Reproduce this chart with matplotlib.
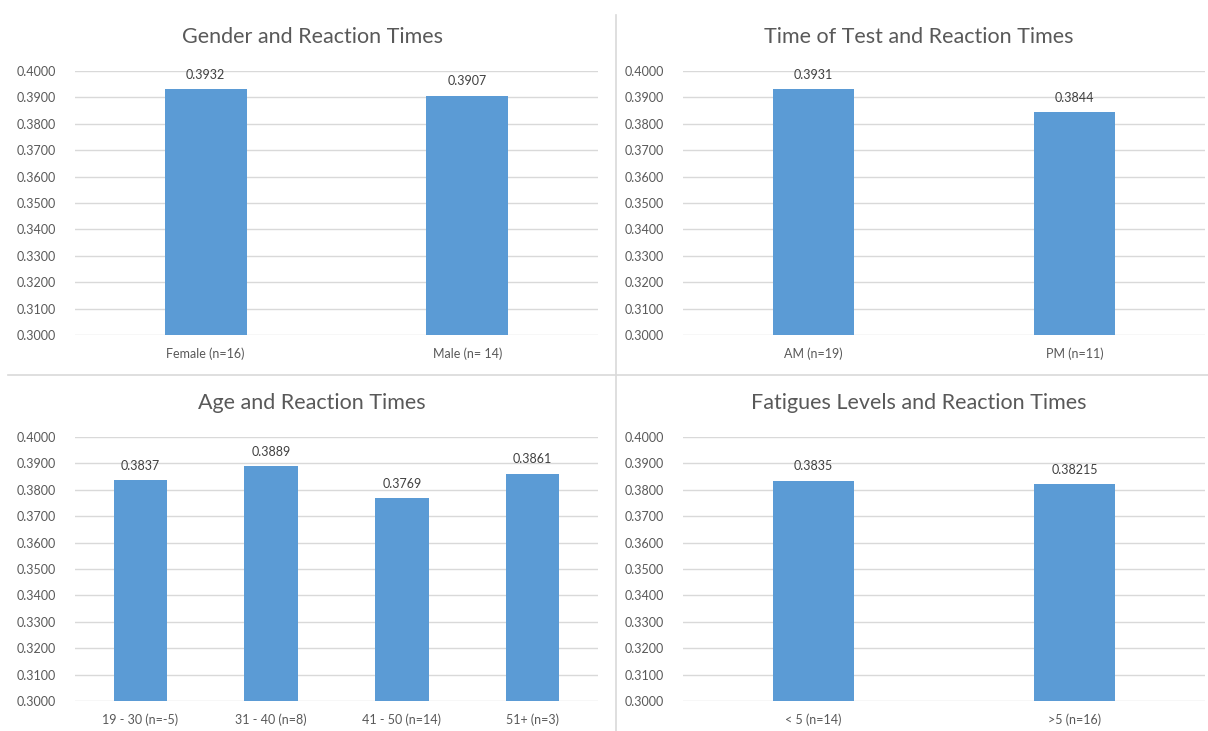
import matplotlib.pyplot as plt
from matplotlib.lines import Line2D

plt.rcParams['font.family'] = ['Lato', 'DejaVu Sans']

gender_labels = ['Female (n=16)', 'Male (n= 14)']
gender_times = [0.3932, 0.3907]

time_labels = ['AM (n=19)', 'PM (n=11)']
time_times = [0.3931, 0.3844]

age_labels = ['19 - 30 (n=-5)', '31 - 40 (n=8)', '41 - 50 (n=14)', '51+ (n=3)']
age_times = [0.3837, 0.3889, 0.3769, 0.3861]

fatigue_labels = ['< 5 (n=14)', '>5 (n=16)']
fatigue_times = [0.3835, 0.38215]
fatigue_text = ['0.3835', '0.38215']

W, H = 1208, 731
bar_color = '#5b9bd5'
grid_color = '#d9d9d9'
text_color = '#595959'

fig = plt.figure(figsize=(W / 100, H / 100), dpi=100)


def panel(left, right, top, bottom, title, title_x, title_y, labels, values, width, texts=None):
    ax = fig.add_axes([left / W, 1 - bottom / H, (right - left) / W, (bottom - top) / H])
    x = range(len(values))
    ax.bar(x, values, width=width, color=bar_color, zorder=3)
    ax.set_xlim(-0.5, len(values) - 0.5)
    ax.set_ylim(0.3, 0.4)
    ax.set_yticks([0.3 + 0.01 * i for i in range(11)])
    ax.yaxis.set_major_formatter(plt.FormatStrFormatter('%.4f'))
    ax.set_xticks(list(x))
    ax.set_xticklabels(labels)
    ax.grid(axis='y', color=grid_color, linewidth=1, zorder=0)
    for s in ax.spines.values():
        s.set_visible(False)
    ax.tick_params(length=0, labelsize=9, colors=text_color)
    ax.tick_params(axis='y', pad=14)
    ax.tick_params(axis='x', pad=9)
    if texts is None:
        texts = ['%.4f' % v for v in values]
    for i, (v, t) in enumerate(zip(values, texts)):
        ax.annotate(t, (i, v), xytext=(0, 6), textcoords='offset points',
                    ha='center', va='bottom', fontsize=9, color='#404040')
    # chart title sits over the whole chart area, not just the plot
    fig.text(title_x / W, 1 - title_y / H, title, ha='center', va='center',
             fontsize=15.5, color=text_color)
    return ax


panel(75, 598, 71, 335, 'Gender and Reaction Times', 312, 37,
      gender_labels, gender_times, 0.314)
panel(683, 1205, 71, 335, 'Time of Test and Reaction Times', 919, 37,
      time_labels, time_times, 0.314)
panel(75, 598, 437, 701, 'Age and Reaction Times', 312, 403,
      age_labels, age_times, 0.41)
panel(683, 1205, 437, 701, 'Fatigues Levels and Reaction Times', 919, 403,
      fatigue_labels, fatigue_times, 0.314, fatigue_text)

# panel separators
fig.add_artist(Line2D([616 / W, 616 / W], [0, 1 - 15 / H], color=grid_color, linewidth=1.2))
fig.add_artist(Line2D([8 / W, 1], [1 - 375 / H, 1 - 375 / H], color=grid_color, linewidth=1.2))

fig.savefig('out.png', dpi=100)
